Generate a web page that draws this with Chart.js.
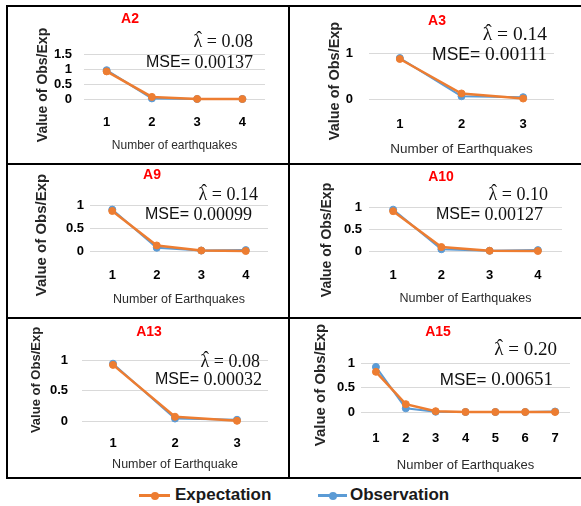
<!DOCTYPE html>
<html>
<head>
<meta charset="utf-8">
<script src="https://cdn.jsdelivr.net/npm/chart.js@4.4.0/dist/chart.umd.min.js"></script>
<style>
  body { margin: 0; background: #fff; }
  #wrap { position: relative; width: 581px; height: 506px; overflow: hidden; font-family: "Liberation Sans", Arial, sans-serif; }
  .panel, .rule, .leg { position: absolute; }
  .rule { background: #000; }
  .legLine { position: absolute; height: 3px; }
  .legDot { position: absolute; width: 8px; height: 8px; border-radius: 50%; }
  .legText { position: absolute; font-weight: bold; font-size: 17px; color: #1a1a1a; line-height: 20px; }
</style>
</head>
<body>
<div id="wrap"></div>
<script>
// ---- data ----
const panelNames = ['A2', 'A3', 'A9', 'A10', 'A13', 'A15'];
const lambdaValues = ['0.08', '0.14', '0.14', '0.10', '0.08', '0.20'];
const mseValues = ['0.00137', '0.00111', '0.00099', '0.00127', '0.00032', '0.00651'];
const xTitles = ['Number of earthquakes', 'Number of Earthquakes', 'Number of Earthquakes',
                 'Number of Earthquakes', 'Number of Earthquake', 'Number of Earthquakes'];
const yTitle = 'Value of Obs/Exp';
const seriesNames = ['Expectation', 'Observation'];

const labels3 = ['1', '2', '3'];
const labels4 = ['1', '2', '3', '4'];
const labels7 = ['1', '2', '3', '4', '5', '6', '7'];

const a2Exp = [0.92, 0.07, 0.003, 0.0];
const a2Obs = [0.96, 0.02, 0.0, 0.0];
const a3Exp = [0.87, 0.12, 0.01];
const a3Obs = [0.89, 0.06, 0.04];
const a9Exp = [0.87, 0.12, 0.01, 0.0];
const a9Obs = [0.90, 0.07, 0.01, 0.02];
const a10Exp = [0.905, 0.09, 0.005, 0.0];
const a10Obs = [0.94, 0.04, 0.005, 0.02];
const a13Exp = [0.92, 0.07, 0.003];
const a13Obs = [0.94, 0.04, 0.02];
const a15Exp = [0.82, 0.16, 0.016, 0.001, 0.0, 0.0, 0.0];
const a15Obs = [0.92, 0.075, 0.005, 0.0, 0.0, 0.0, 0.01];

const yMaxes = [1.5, 1, 1, 1, 1, 1];
const ySteps = [0.5, 1, 0.5, 0.5, 0.5, 0.5];

// ---- layout (absolute page pixels) ----
const panels = [
  { x: 8, y: 7, w: 280, h: 156, area: [84, 54, 265, 99], yTickRight: 72, xTickY: 122, xTitleY: 146, xTitleSize: 12,
    titleAt: [130, 19], yTitleAt: [43, 85], yTitleSize: 14, lamAt: [253, 42], mseAt: [253, 63], noteSize: 18,
    labels: labels4, exp: a2Exp, obs: a2Obs },
  { x: 290, y: 7, w: 291, h: 156, area: [369, 53, 554, 99], yTickRight: 353, xTickY: 124, xTitleY: 149, xTitleSize: 13.5,
    titleAt: [437, 21], yTitleAt: [335, 81], yTitleSize: 14.5, lamAt: [547, 35], mseAt: [547, 55], noteSize: 19.5,
    labels: labels3, exp: a3Exp, obs: a3Obs },
  { x: 8, y: 165, w: 280, h: 152, area: [90, 205, 268, 251], yTickRight: 84, xTickY: 275, xTitleY: 300, xTitleSize: 12.5,
    titleAt: [152, 175], yTitleAt: [42, 235], yTitleSize: 15, lamAt: [258, 195], mseAt: [252, 215], noteSize: 18,
    labels: labels4, exp: a9Exp, obs: a9Obs },
  { x: 290, y: 165, w: 291, h: 152, area: [369, 207, 562, 251], yTickRight: 362, xTickY: 275, xTitleY: 299, xTitleSize: 12.5,
    titleAt: [441, 177], yTitleAt: [327, 240], yTitleSize: 14, lamAt: [548, 195], mseAt: [543, 215], noteSize: 18,
    labels: labels4, exp: a10Exp, obs: a10Obs },
  { x: 8, y: 319, w: 280, h: 158, area: [82, 360, 268, 421], yTickRight: 68, xTickY: 443, xTitleY: 465, xTitleSize: 12.5,
    titleAt: [149, 332], yTitleAt: [36, 380], yTitleSize: 13, lamAt: [260, 362], mseAt: [262, 380], noteSize: 18,
    labels: labels3, exp: a13Exp, obs: a13Obs },
  { x: 290, y: 319, w: 291, h: 158, area: [361, 363, 570, 412], yTickRight: 355, xTickY: 438, xTitleY: 465, xTitleSize: 13,
    titleAt: [438, 332], yTitleAt: [321, 385], yTitleSize: 15, lamAt: [557, 350], mseAt: [553, 380], noteSize: 19,
    labels: labels7, exp: a15Exp, obs: a15Obs }
];

const orange = '#ED7D31';
const blue = '#5B9BD5';
const sans = '"Liberation Sans", Arial, sans-serif';
const serif = '"Liberation Serif", "DejaVu Serif", serif';
Chart.defaults.font.family = sans;

const wrap = document.getElementById('wrap');

function drawText(ctx, p, i) {
  const ox = p.x, oy = p.y;
  ctx.save();
  ctx.textBaseline = 'middle';
  ctx.textAlign = 'center';
  ctx.fillStyle = '#FF0000';
  ctx.font = 'bold 14px ' + sans;
  ctx.fillText(panelNames[i], p.titleAt[0] - ox, p.titleAt[1] - oy);

  ctx.fillStyle = '#262626';
  ctx.font = 'bold ' + p.yTitleSize + 'px ' + sans;
  ctx.translate(p.yTitleAt[0] - ox, p.yTitleAt[1] - oy);
  ctx.rotate(-Math.PI / 2);
  ctx.fillText(yTitle, 0, 0);
  ctx.restore();

  ctx.save();
  ctx.textBaseline = 'middle';
  ctx.textAlign = 'right';
  ctx.fillStyle = '#111';
  const fs = p.noteSize;
  const rest = ' = ' + lambdaValues[i];
  const lx = p.lamAt[0] - ox, ly = p.lamAt[1] - oy;
  ctx.font = fs + 'px ' + serif;
  ctx.fillText(rest, lx, ly);
  const w = ctx.measureText(rest).width;
  const lw = ctx.measureText('\u03BB').width;
  ctx.fillText('\u03BB', lx - w, ly);
  // hat over lambda
  ctx.textAlign = 'center';
  ctx.fillText('\u02C6', lx - w - lw / 2 + 1, ly - fs * 0.14);

  ctx.textAlign = 'right';
  ctx.fillText(mseValues[i], p.mseAt[0] - ox, p.mseAt[1] - oy);
  const w2 = ctx.measureText(mseValues[i]).width;
  ctx.font = (fs - 2) + 'px ' + sans;
  ctx.fillText('MSE= ', p.mseAt[0] - ox - w2, p.mseAt[1] - oy);
  ctx.restore();
}

panels.forEach((p, i) => {
  const cv = document.createElement('canvas');
  cv.width = p.w;
  cv.height = p.h;
  cv.className = 'panel';
  cv.style.left = p.x + 'px';
  cv.style.top = p.y + 'px';
  wrap.appendChild(cv);

  const tickFont = { family: sans, size: 13, weight: 'bold' };
  const tickLh = 13 * 1.2;
  const xtLh = p.xTitleSize * 1.2;

  new Chart(cv, {
    type: 'line',
    data: {
      labels: p.labels,
      datasets: [
        { label: seriesNames[0], data: p.exp, borderColor: orange, backgroundColor: orange,
          borderWidth: 2.5, pointRadius: 3.5, pointBorderWidth: 1, clip: false },
        { label: seriesNames[1], data: p.obs, borderColor: blue, backgroundColor: blue,
          borderWidth: 2, pointRadius: 3.5, pointBorderWidth: 1, clip: false }
      ]
    },
    options: {
      responsive: false,
      animation: false,
      events: [],
      layout: { padding: { left: 0, top: p.area[1] - p.y, right: p.x + p.w - p.area[2], bottom: 0 } },
      plugins: { legend: { display: false }, tooltip: { enabled: false } },
      scales: {
        x: {
          offset: true,
          grid: { display: false, drawTicks: false },
          border: { display: false },
          ticks: { font: tickFont, color: '#000', padding: p.xTickY - p.area[3] - tickLh / 2,
                   maxRotation: 0, autoSkip: false },
          title: { display: true, text: xTitles[i], color: '#2b2b2b', font: { size: p.xTitleSize },
                   padding: { top: 0, bottom: p.y + p.h - p.xTitleY - xtLh / 2 } },
          afterFit: s => { s.height = p.y + p.h - p.area[3]; }
        },
        y: {
          min: 0,
          max: yMaxes[i],
          grid: { color: '#D9D9D9', lineWidth: 1, drawTicks: false },
          border: { display: false },
          ticks: { stepSize: ySteps[i], font: tickFont, color: '#000', autoSkip: false,
                   padding: p.area[0] - p.yTickRight, callback: v => String(Math.round(v * 10) / 10) },
          afterFit: s => { s.width = p.area[0] - p.x; }
        }
      }
    },
    plugins: [{ id: 'panelText', afterDraw: chart => drawText(chart.ctx, p, i) }]
  });
});

// frame rules
const rules = [
  [6, 5, 575, 2], [6, 163, 575, 2], [6, 317, 575, 2], [6, 477, 575, 2],
  [6, 5, 2, 474], [288, 5, 2, 474]
];
rules.forEach(r => {
  const d = document.createElement('div');
  d.className = 'rule';
  d.style.left = r[0] + 'px'; d.style.top = r[1] + 'px';
  d.style.width = r[2] + 'px'; d.style.height = r[3] + 'px';
  wrap.appendChild(d);
});

// legend
const legendItems = [
  { name: seriesNames[0], color: orange, lineX: 139, lineW: 31, textX: 175 },
  { name: seriesNames[1], color: blue, lineX: 318, lineW: 29, textX: 350 }
];
legendItems.forEach(it => {
  const ln = document.createElement('div');
  ln.className = 'legLine';
  ln.style.left = it.lineX + 'px'; ln.style.top = '494px';
  ln.style.width = it.lineW + 'px'; ln.style.background = it.color;
  wrap.appendChild(ln);
  const dot = document.createElement('div');
  dot.className = 'legDot';
  dot.style.left = (it.lineX + it.lineW / 2 - 4) + 'px'; dot.style.top = '491.5px';
  dot.style.background = it.color;
  wrap.appendChild(dot);
  const tx = document.createElement('div');
  tx.className = 'legText';
  tx.style.left = it.textX + 'px'; tx.style.top = '485px';
  tx.textContent = it.name;
  wrap.appendChild(tx);
});
</script>
</body>
</html>
